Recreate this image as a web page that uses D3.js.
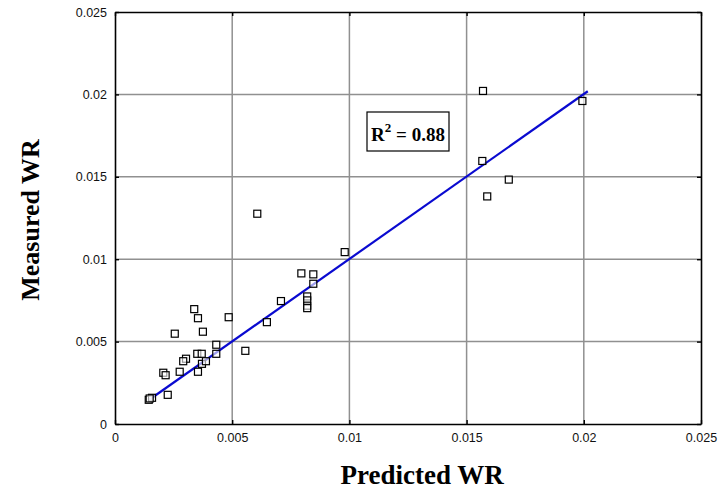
<!DOCTYPE html>
<html>
<head>
<meta charset="utf-8">
<script src="https://cdn.jsdelivr.net/npm/d3@7"></script>
<style>
body{margin:0;background:#fff;}
svg{display:block;}
</style>
</head>
<body>
<script>
// Data
const predicted = [0.00607,0.0098,0.00795,0.00846,0.00846,0.00708,0.0082,0.0082,0.0082,0.0082,0.00648,0.00556,0.00485,0.00338,0.00354,0.00375,0.00255,0.00432,0.00432,0.00351,0.0037,0.00371,0.00388,0.00303,0.00291,0.00276,0.00354,0.00206,0.00216,0.00225,0.00144,0.00158,0.00148,0.0157,0.01994,0.01567,0.0168,0.01588];
const measured  = [0.01276,0.01043,0.00914,0.00908,0.00851,0.00746,0.00774,0.0075,0.00718,0.00703,0.00618,0.00444,0.00648,0.00697,0.00642,0.0056,0.00548,0.00481,0.00426,0.00426,0.00426,0.00365,0.00381,0.00396,0.00381,0.00317,0.00317,0.00311,0.00296,0.00177,0.00147,0.00159,0.00155,0.02021,0.0196,0.01596,0.01483,0.01381];
const fitX = [0.00146, 0.02017];
const fitY = [0.00147, 0.02019];
const xTicks = [0,0.005,0.01,0.015,0.02,0.025];
const yTicks = [0,0.005,0.01,0.015,0.02,0.025];
const xLabel = "Predicted WR";
const yLabel = "Measured WR";
const annotation = "0.88";

const W=720,H=492;
const m={l:115,r:19,t:12,b:68};
const svg=d3.select("body").append("svg").attr("width",W).attr("height",H);
const x=d3.scaleLinear().domain([0,0.025]).range([m.l,W-m.r]);
const y=d3.scaleLinear().domain([0,0.025]).range([H-m.b,m.t]);

// grid
svg.append("g").selectAll("line").data(xTicks.slice(1,-1)).join("line")
  .attr("x1",d=>x(d)).attr("x2",d=>x(d)).attr("y1",y(0)).attr("y2",y(0.025))
  .attr("stroke","#909090").attr("stroke-width",1.5);
svg.append("g").selectAll("line").data(yTicks.slice(1,-1)).join("line")
  .attr("y1",d=>y(d)).attr("y2",d=>y(d)).attr("x1",x(0)).attr("x2",x(0.025))
  .attr("stroke","#909090").attr("stroke-width",1.5);

// axes
const fmt=d=>d===0?"0":String(+d.toFixed(3));
svg.append("g").attr("transform",`translate(0,${y(0)})`)
  .call(d3.axisBottom(x).tickValues(xTicks).tickFormat(fmt).tickSizeInner(-4).tickSizeOuter(0).tickPadding(9));
svg.append("g").attr("transform",`translate(${x(0)},0)`)
  .call(d3.axisLeft(y).tickValues(yTicks).tickFormat(fmt).tickSizeInner(-4).tickSizeOuter(0).tickPadding(8));
svg.append("g").attr("transform",`translate(${x(0.025)},0)`)
  .call(d3.axisRight(y).tickValues(yTicks).tickFormat("").tickSizeInner(-4).tickSizeOuter(0));
svg.append("g").attr("transform",`translate(0,${y(0.025)})`)
  .call(d3.axisTop(x).tickValues(xTicks).tickFormat("").tickSizeInner(-4).tickSizeOuter(0));
svg.selectAll(".domain").attr("stroke","#000").attr("stroke-width",1.6);
svg.selectAll(".tick line").attr("stroke","#000").attr("stroke-width",1.4);
svg.selectAll(".tick text").attr("font-family","Liberation Sans, Arial, sans-serif").attr("font-size",12.5).attr("fill","#111");

// fit line
svg.append("line").attr("x1",x(fitX[0])).attr("y1",y(fitY[0])).attr("x2",x(fitX[1])).attr("y2",y(fitY[1]))
  .attr("stroke","#0a0ad0").attr("stroke-width",2.2);

// points
svg.append("g").selectAll("rect").data(predicted.map((p,i)=>[p,measured[i]])).join("rect")
  .attr("x",d=>x(d[0])-3.5).attr("y",d=>y(d[1])-3.5).attr("width",7).attr("height",7)
  .attr("fill","#fff").attr("fill-opacity",0.6).attr("stroke","#000").attr("stroke-width",1.2);

// annotation box
const bx=367,by=112;
svg.append("rect").attr("x",bx).attr("y",by).attr("width",82).attr("height",39)
  .attr("fill","#fff").attr("stroke","#000").attr("stroke-width",1.2);
const t=svg.append("text").attr("x",bx+41).attr("y",by+29).attr("text-anchor","middle")
  .attr("font-family","Liberation Serif, Times New Roman, serif").attr("font-weight","bold").attr("font-size",19);
t.append("tspan").text("R");
t.append("tspan").attr("dy",-9).attr("font-size",13).text("2");
t.append("tspan").attr("dy",9).text(" = "+annotation);

// axis titles
svg.append("text").attr("x",x(0.0131)).attr("y",484).attr("text-anchor","middle")
  .attr("font-family","Liberation Serif, Times New Roman, serif").attr("font-weight","bold").attr("font-size",27)
  .text(xLabel);
svg.append("text").attr("transform",`translate(39,${y(0.0125)+2}) rotate(-90)`).attr("text-anchor","middle")
  .attr("font-family","Liberation Serif, Times New Roman, serif").attr("font-weight","bold").attr("font-size",26)
  .text(yLabel);
</script>
</body>
</html>
